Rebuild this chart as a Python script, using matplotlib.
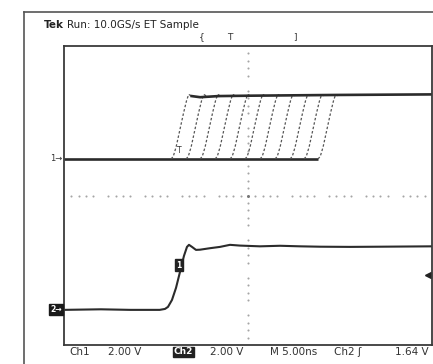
import numpy as np
import matplotlib
matplotlib.use("Agg")
import matplotlib.pyplot as plt
from matplotlib.lines import Line2D

W, H = 433, 364

# ---- data (time in ns, voltage in V) ----
ch1_offset_div = 0.98      # Ch1 ground position (divisions from centre)
ch2_offset_div = -3.06     # Ch2 ground position
volts_per_div = 2.0
trigger_level = 1.64

# start times of the overlaid Ch1 rising edges
ch1_edge_starts = [-10.46, -8.42, -6.52, -4.48, -2.45, -0.41, 1.63, 3.67, 5.71, 7.61, 9.51]
# shape of one rising edge (time after start, volts)
rise_dt = [0.0, 0.3, 0.7, 1.2, 1.7, 2.1, 2.4, 2.8]
rise_v = [0.0, 0.12, 0.65, 1.55, 2.45, 3.1, 3.45, 3.36]
# Ch1 high level
ch1_high_t = [-8.0, -6.5, -4.0, 0.0, 6.0, 12.0, 25.0]
ch1_high_v = [3.34, 3.30, 3.36, 3.38, 3.40, 3.42, 3.45]

# Ch2 waveform
ch2_t = [-25.0, -20.0, -16.0, -12.0, -11.28, -10.87, -10.33, -9.78, -9.24, -8.70,
         -8.29, -8.02, -7.61, -7.07, -6.52, -5.16, -3.80, -2.45, -1.09, 1.63,
         4.35, 7.07, 9.78, 13.86, 17.93, 25.0]
ch2_v = [0.0, 0.03, 0.0, 0.0, 0.05, 0.16, 0.53, 1.18, 2.03, 2.89,
         3.37, 3.48, 3.37, 3.21, 3.22, 3.30, 3.37, 3.48, 3.44, 3.40,
         3.43, 3.40, 3.38, 3.37, 3.38, 3.40]

# annotations
header = "Run: 10.0GS/s ET Sample"

fig = plt.figure(figsize=(W / 100, H / 100), dpi=100)
fig.patch.set_facecolor("white")

def fx(px):
    return px / W

def fy(py):
    return 1 - py / H

ax = fig.add_axes([fx(64), fy(345), (432 - 64) / W, (345 - 46) / H])
ax.set_xlim(-25, 25)
ax.set_ylim(-4, 4)
ax.set_xticks([])
ax.set_yticks([])
for s in ax.spines.values():
    s.set_color("#3a3a3a")
    s.set_linewidth(1.3)

def y1(v):
    return ch1_offset_div + np.asarray(v) / volts_per_div

def y2(v):
    return ch2_offset_div + np.asarray(v) / volts_per_div

# graticule: dotted centre crosshair (groups of dots per division)
sub_x = [t for t in np.arange(-25, 25.01, 1.0) if abs(t % 5) > 1e-6 and abs(t % 5 - 5) > 1e-6]
ax.plot(sub_x, [0] * len(sub_x), ls="none", marker="o", ms=1.5, color="#a5a5a5", mec="none")
sub_y = [d for d in np.arange(-4, 4.01, 0.2) if abs(d - round(d)) > 1e-6]
ax.plot([0] * len(sub_y), sub_y, ls="none", marker="o", ms=1.5, color="#a5a5a5", mec="none")
ax.plot([0], [0], marker="o", ms=2.2, color="#777777", mec="none")

dark = "#2b2b2b"
# Ch1 overlaid acquisitions
last_start = max(ch1_edge_starts)
ax.plot([-25, last_start], y1([0.0, 0.0]), color=dark, lw=1.9, solid_capstyle="butt")
for t0 in ch1_edge_starts:
    rt = [t0 + d for d in rise_dt]
    ax.plot(rt, y1(rise_v), color="#555555", lw=0.9, ls=(0, (2.0, 1.6)))
first_end = min(ch1_edge_starts) + rise_dt[-1]
ht = [first_end] + [t for t in ch1_high_t if t > first_end]
hv = [rise_v[-1]] + [v for t, v in zip(ch1_high_t, ch1_high_v) if t > first_end]
ax.plot(ht, y1(hv), color=dark, lw=1.9)

# Ch2
ax.plot(ch2_t, y2(ch2_v), color=dark, lw=1.5)

# markers inside the screen
ax.text(-9.3, y1(0.45), "T", fontsize=5.5, ha="center", va="center", color="#333333")
ax.text(-9.4, y2(2.4), "1", fontsize=5.5, ha="center", va="center", color="white",
        fontweight="bold", bbox=dict(boxstyle="square,pad=0.15", fc="#222222", ec="#222222"))
ax.plot([24.4], y2(trigger_level) + 0.1, marker="<", ms=4, color="#222222", clip_on=False)

# channel ground markers on left
ax.text(-25.2, y1(0), "1\u2192", fontsize=6, ha="right", va="center", color="#333333",
        transform=ax.transData)
ax.text(-25.3, y2(0), "2\u2192", fontsize=5.5, ha="right", va="center", color="white",
        fontweight="bold", bbox=dict(boxstyle="square,pad=0.12", fc="#1a1a1a", ec="#1a1a1a"))

# outer frame
fig.add_artist(Line2D([fx(24), fx(24)], [fy(12), 0], color="#555555", lw=1.2))
fig.add_artist(Line2D([fx(24), 1], [fy(12), fy(12)], color="#555555", lw=1.2))

# header
fig.text(fx(44), fy(25), "Tek", fontsize=7.5, fontweight="bold", ha="left", va="center", color="#222222")
fig.text(fx(67), fy(25), header, fontsize=7.5, ha="left", va="center", color="#222222")
fig.text(fx(202), fy(37), "{", fontsize=6.5, ha="center", va="center", color="#333333")
fig.text(fx(230), fy(37), "T", fontsize=6.5, ha="center", va="center", color="#333333")
fig.text(fx(295), fy(37), "]", fontsize=6.5, ha="center", va="center", color="#333333")

# footer
fs = 7.5
fig.text(fx(69), fy(352), "Ch1", fontsize=fs, ha="left", va="center", color="#333333")
fig.text(fx(108), fy(352), "2.00 V", fontsize=fs, ha="left", va="center", color="#333333")
fig.text(fx(174), fy(352), "Ch2", fontsize=fs - 1, ha="left", va="center", color="white",
         fontweight="bold", bbox=dict(boxstyle="square,pad=0.1", fc="#222222", ec="#222222"))
fig.text(fx(210), fy(352), "2.00 V", fontsize=fs, ha="left", va="center", color="#333333")
fig.text(fx(270), fy(352), "M 5.00ns", fontsize=fs, ha="left", va="center", color="#333333")
fig.text(fx(334), fy(352), "Ch2 \u0283", fontsize=fs, ha="left", va="center", color="#333333")
fig.text(fx(395), fy(352), "1.64 V", fontsize=fs, ha="left", va="center", color="#333333")

fig.savefig("out.png", dpi=100, facecolor="white")
